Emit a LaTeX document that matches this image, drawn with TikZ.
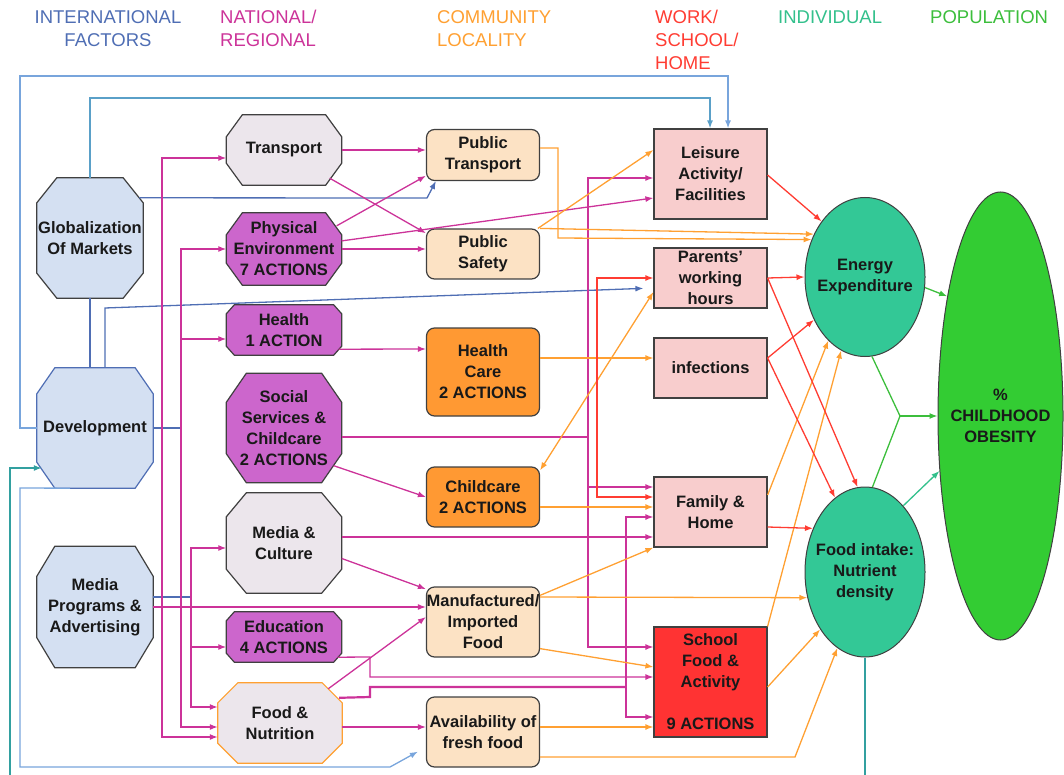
\documentclass[tikz,border=0pt]{standalone}
\usepackage{fontspec}
\setmainfont{Liberation Sans}
\usetikzlibrary{shapes.geometric,arrows.meta,calc,backgrounds}

\definecolor{intlc}{RGB}{79,110,180}
\definecolor{intll}{RGB}{120,165,220}
\definecolor{intlt}{RGB}{90,160,200}
\definecolor{natc}{RGB}{204,51,153}
\definecolor{commc}{RGB}{255,160,50}
\definecolor{workc}{RGB}{255,60,50}
\definecolor{indivc}{RGB}{51,192,140}
\definecolor{popc}{RGB}{60,190,60}
\definecolor{fbc}{RGB}{50,160,160}
\definecolor{intlfill}{RGB}{212,224,242}
\definecolor{natlight}{RGB}{236,230,236}
\definecolor{natfill}{RGB}{204,102,204}
\definecolor{commlight}{RGB}{252,226,196}
\definecolor{commfill}{RGB}{255,153,51}
\definecolor{worklight}{RGB}{248,205,205}
\definecolor{workfill}{RGB}{255,51,51}
\definecolor{indivfill}{RGB}{51,200,150}
\definecolor{popfill}{RGB}{51,204,51}
\definecolor{edge}{RGB}{64,64,64}

\begin{document}
\begin{tikzpicture}[x=1pt,y=-1pt,>={Latex[length=8pt,width=6pt]},
      txt/.style={font=\fontsize{16.5}{21}\selectfont\bfseries, text=black!90, align=center, inner sep=0pt},
      hdr/.style={font=\fontsize{18.5}{23}\selectfont, align=left, inner sep=0pt},
      oct/.style={txt, rectangle},
      comm/.style={txt, rectangle, rounded corners=8pt, draw=edge, line width=1.2pt, minimum width=113pt},
      work/.style={txt, rectangle, draw=edge, line width=1.2pt, minimum width=113pt},
      indiv/.style={ellipse, draw=edge, line width=1pt, fill=indivfill, inner sep=0pt,
        minimum width=120pt, label={[txt]center:#1}},
      wire/.style={line width=1.3pt},
      intlw/.style={wire, draw=intlc},
      natw/.style={wire, draw=natc},
      commw/.style={wire, draw=commc},
      workw/.style={wire, draw=workc},
      indw/.style={wire, draw=indivc},
      popw/.style={wire, draw=popc}]
\useasboundingbox (0,0) rectangle (1064,775);

% level headings
\node[hdr, text=intlc, align=center] (hintl) at (108,28.5) {INTERNATIONAL\\FACTORS};
\node[hdr, text=natc, anchor=west] (hnat) at (220,28.5) {NATIONAL/\\REGIONAL};
\node[hdr, text=commc, anchor=west] (hcomm) at (437,28.5) {COMMUNITY\\LOCALITY};
\node[hdr, text=workc, anchor=west] (hwork) at (655,40) {WORK/\\SCHOOL/\\HOME};
\node[hdr, text=indivc, anchor=west] (hind) at (778,17) {INDIVIDUAL};
\node[hdr, text=popc, anchor=west] (hpop) at (930,17) {POPULATION};

% international
\node[oct, minimum width=106pt, minimum height=120pt] (glob) at (90,238) {Globalization\\Of Markets};
\node[oct, minimum width=116pt, minimum height=120pt] (devel) at (95,428) {Development};
\node[oct, minimum width=116pt, minimum height=121pt] (mediaprog) at (95,607) {Media\\Programs \&\\Advertising};

% national / regional
\node[oct, minimum width=115pt, minimum height=70pt] (transport) at (284,150) {Transport};
\node[oct, minimum width=115pt, minimum height=72pt] (physenv) at (284,249) {Physical\\Environment\\7 ACTIONS};
\node[oct, minimum width=115pt, minimum height=50pt] (health) at (284,330) {Health\\1 ACTION};
\node[oct, minimum width=115pt, minimum height=109pt] (social) at (284,428) {Social\\Services \&\\Childcare\\2 ACTIONS};
\node[oct, minimum width=115pt, minimum height=100pt] (mediacult) at (284,543) {Media \&\\Culture};
\node[oct, minimum width=115pt, minimum height=50pt] (educ) at (284,637) {Education\\4 ACTIONS};
\node[oct, minimum width=124pt, minimum height=80pt] (foodnut) at (280,723) {Food \&\\Nutrition};

% octagon outlines behind the texts
\begin{scope}[on background layer]
\foreach \n/\cx/\cy/\f/\d in {glob/20/25/intlfill/edge, devel/18/26/intlfill/intlc, mediaprog/18/30/intlfill/edge,
    transport/16/22/natlight/edge, physenv/16/22/natfill/edge, health/8/9/natfill/edge, social/20/29/natfill/edge,
    mediacult/20/24/natlight/edge, educ/8/9/natfill/edge, foodnut/20/20/natlight/commc}
  \draw[line width=1.2pt, draw=\d, fill=\f]
    ($(\n.north west)+(\cx,0)$) -- ($(\n.north east)+(-\cx,0)$) -- ($(\n.north east)+(0,\cy)$)
    -- ($(\n.south east)+(0,-\cy)$) -- ($(\n.south east)+(-\cx,0)$) -- ($(\n.south west)+(\cx,0)$)
    -- ($(\n.south west)+(0,-\cy)$) -- ($(\n.north west)+(0,\cy)$) -- cycle;
\end{scope}

% community / locality
\node[comm, fill=commlight, minimum height=51pt] (ptrans) at (483,155) {Public\\Transport};
\node[comm, fill=commlight, minimum height=50pt] (psafety) at (483,254) {Public\\Safety};
\node[comm, fill=commfill, minimum height=88pt] (hcare) at (483,372) {Health\\Care\\2 ACTIONS};
\node[comm, fill=commfill, minimum height=60pt] (ccare) at (483,497) {Childcare\\2 ACTIONS};
\node[comm, fill=commlight, minimum height=70pt] (manuf) at (483,622) {Manufactured/\\Imported\\Food};
\node[comm, fill=commlight, minimum height=70pt] (fresh) at (483,732) {Availability of\\fresh food};

% work / school / home
\node[work, fill=worklight, minimum height=90pt] (leisure) at (710.5,174) {Leisure\\Activity/\\Facilities};
\node[work, fill=worklight, minimum height=60pt] (parents) at (710.5,278) {Parents'\\working\\hours};
\node[work, fill=worklight, minimum height=60pt] (infect) at (710.5,368) {infections};
\node[work, fill=worklight, minimum height=70pt] (family) at (710.5,512) {Family \&\\Home};
\node[work, fill=workfill, minimum height=110pt] (school) at (710.5,682) {School\\Food \&\\Activity\\[21pt]9 ACTIONS};

% individual / population
\node[indiv={Energy\\Expenditure}, minimum height=159pt] (energy) at (865,277) {};
\node[indiv={Food intake:\\Nutrient\\density}, minimum height=170pt] (intake) at (865,572) {};
\node[ellipse, draw=edge, line width=1pt, fill=popfill, inner sep=0pt, minimum width=125pt, minimum height=448pt,
  label={[txt]center:\%\\CHILDHOOD\\OBESITY}] (obesity) at (1000.5,416) {};

\coordinate (fbin) at (10,775);
\coordinate (tapb) at (181,339);
\coordinate (tapc) at (191,647);
\coordinate (taps) at (588,487);
\coordinate (jn) at (900,416);

% international links
\draw[intlw, draw=intll, ->] (devel.west) -- (20,428) -- (20,76) -- (728,76) -- (leisure.north -| 728,0);
\draw[intlw, draw=intlt, ->] (glob.north) -- (glob.north |- 0,98) -- (710,98) -- (leisure.north -| 710,0);
\draw[intlw, ->] ($(glob.north east)+(-4,20)$) -- (427,198) -- ($(ptrans.south west)+(10,0)$);
\draw[intlw] (glob.south) -- (glob.south |- devel.north);
\draw[intlw, ->, shorten >=10pt] ($(devel.north)+(10,0)$) -- (105,308) -- ($(parents.west)+(0,10)$);
\draw[intlw] (devel.east) -- (181,428);
\draw[intlw] (mediaprog.east |- 0,597) -- (191,597);
\draw[intlw, draw=intll, ->] ($(devel.south)+(-25,0)$) -- (20,488) -- (20,767) -- (390,767) -- ($(fresh.south west)+(-8,-16)$);
\draw[wire, draw=fbc, ->] (fbin) -- (10,468) -- ($(devel.west)+(5,40)$);
\draw[wire, draw=fbc] (intake.south) -- (intake.south |- fbin);

% national links
\draw[natw, ->] (transport.east) -- (transport.east -| ptrans.west);
\draw[natw, ->] ($(transport.south east)+(-12,-7)$) -- (psafety.160);
\draw[natw, ->] ($(physenv.north east)+(-5,13)$) -- (ptrans.200);
\draw[natw, ->] (physenv.east) -- (physenv.east -| psafety.west);
\draw[natw, ->] (physenv.8) -- (leisure.west |- 0,198);
\draw[natw, ->] ($(health.south east)+(-3,-6)$) -- (hcare.west |- 0,349);
\draw[natw] (social.east |- 0,437) -- (588,437);
\draw[natw, ->] ($(social.south east)+(-8,-17)$) -- (ccare.west);
\draw[natw, ->] (mediacult.east |- 0,537) -- (family.west |- 0,537);
\draw[natw, ->] (mediacult.-15) -- (manuf.150);
\draw[natw, ->] (mediaprog.east |- 0,607) -- (manuf.west |- 0,607);
\draw[natw, ->] ($(educ.south east)+(-4,-5)$) -- (370,657) -- (370,677) -- (school.west |- 0,677);
\draw[natw, line width=2.2pt] ($(foodnut.north east)+(-3,15)$) -- (370,697) -- (370,687) -- (626,687);
\draw[natw, ->] ($(foodnut.north east)+(-14,6)$) -- (manuf.west |- 0,617);
\draw[natw, ->] (foodnut.east |- 0,727) -- (fresh.west |- 0,727);
\draw[natw, <->] (transport.west |- 0,158) -- (162,158) -- (162,737) -- (foodnut.west |- 0,737);
\draw[natw, <->] (physenv.west) -- (181,249) -- (181,727) -- (foodnut.west |- 0,727);
\draw[natw, ->] (tapb) -- (health.west |- tapb);
\draw[natw, <->] (mediacult.west |- 0,548) -- (191,548) -- (191,707) -- (foodnut.west |- 0,707);
\draw[natw, ->] (tapc) -- (educ.west |- tapc);
\draw[natw, <->] (leisure.west |- 0,178) -- (588,178) -- (588,647) -- (school.west |- 0,647);
\draw[natw, ->] (taps) -- (family.west |- taps);
\draw[natw, <->] (family.west |- 0,517) -- (626,517) -- (626,717) -- (school.west |- 0,717);

% community links
\draw[commw, ->] (ptrans.east |- 0,148) -- (558,148) -- (558,238) -- (energy.145);
\draw[commw, ->] (psafety.north east) -- (energy.140);
\draw[commw, ->] (psafety.25) -- (leisure.west |- 0,150);
\draw[commw, ->] (hcare.east |- 0,358) -- (infect.west |- 0,358);
\draw[commw, <->] (ccare.25) -- (parents.west |- 0,292);
\draw[commw, ->] (ccare.east |- 0,507) -- (family.west |- 0,507);
\draw[commw, ->] (manuf.25) -- (family.south west);
\draw[commw, ->] (manuf.east |- 0,597) -- (intake.204);
\draw[commw, ->] (manuf.-25) -- (school.west |- 0,667);
\draw[commw, ->] (fresh.east |- 0,727) -- (school.west |- 0,727);
\draw[commw, ->] (fresh.east |- 0,757) -- (795,757) -- (intake.250);
\draw[commw, ->] (family.east |- 0,495) -- (energy.240);
\draw[commw, ->] (school.north east) -- (energy.252);
\draw[commw, ->] (school.east |- 0,687) -- (intake.232);

% work / school / home links
\draw[workw, ->] (leisure.east |- 0,175) -- (energy.128);
\draw[workw, ->] (parents.east) -- (energy.west);
\draw[workw, ->] (parents.east) -- (intake.95);
\draw[workw, ->] (infect.east |- 0,358) -- (energy.220);
\draw[workw, ->] (infect.east |- 0,358) -- (intake.112);
\draw[workw, <->] (parents.west) -- (597,278) -- (597,497) -- (family.west |- 0,497);
\draw[workw, ->] (family.east |- 0,527) -- (intake.140);

% to population
\draw[popw, ->] (energy.-10) -- (obesity.114);
\draw[popw] (energy.-85) -- (jn);
\draw[popw] (intake.85) -- (jn);
\draw[popw, ->] (jn) -- (obesity.west);
\draw[indw, ->] (intake.60) -- (obesity.222);
\end{tikzpicture}
\end{document}
